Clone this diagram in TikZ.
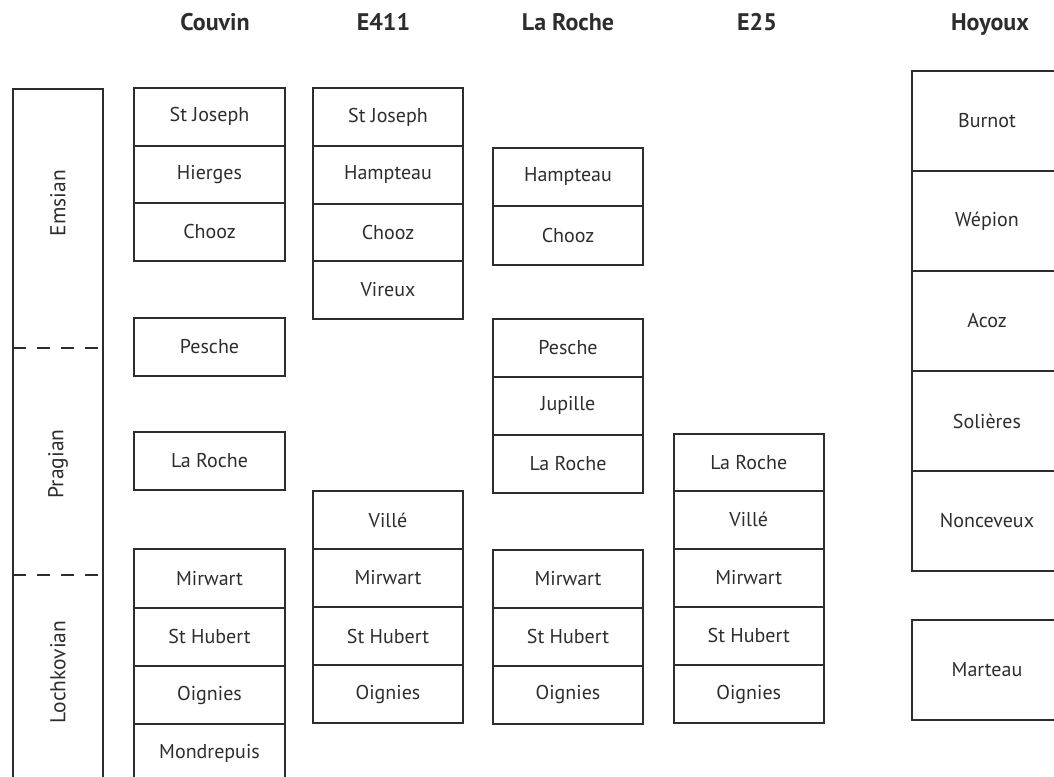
\documentclass[tikz,border=0pt]{standalone}
\usepackage{fontspec}
\setmainfont{PT Sans}
\definecolor{ink}{RGB}{45,45,45}
\tikzset{
  cell/.style={draw=ink, line width=2pt, rectangle, outer sep=0pt, inner sep=0pt,
    anchor=north west, text=ink, font=\fontsize{20}{22}\selectfont},
  hdr/.style={text=ink, font=\fontsize{24}{26}\selectfont\bfseries, anchor=base},
  stagelbl/.style={text=ink, rotate=90, font=\fontsize{21.5}{23}\selectfont},
  stagesep/.style={draw=ink, line width=2pt, dash pattern=on 13pt off 11pt}
}
\newcommand\cellbox[6]{\node[cell, minimum width=#4pt, minimum height=#5pt] (#1) at (#2,#3) {#6};}
\begin{document}
\begin{tikzpicture}[x=1pt,y=-1pt]
\useasboundingbox (0,0) rectangle (1054,776);
% headers
\node[hdr] (hCouvin) at (215,31) {Couvin};
\node[hdr] (hE411) at (383.5,31) {E411};
\node[hdr] (hLaRoche) at (568,31) {La Roche};
\node[hdr] (hE25) at (757,31) {E25};
\node[hdr] (hHoyoux) at (990,31) {Hoyoux};
% stage column
\cellbox{stage}{13}{89}{90}{710}{}
\node[stagelbl] (emsian) at (58,203) {Emsian};
\node[stagelbl] (pragian) at (58,464) {Pragian};
\node[stagelbl] (lochkovian) at (58,672) {Lochkovian};
\coordinate (d1) at (103,348);
\coordinate (d2) at (103,575);
\draw[stagesep] (stage.west |- d1) -- (d1);
\draw[stagesep] (stage.west |- d2) -- (d2);
% Couvin
\cellbox{cA}{134}{88}{151}{57.5}{St Joseph}
\cellbox{cB}{134}{145.5}{151}{57.5}{Hierges}
\cellbox{cC}{134}{203}{151}{57.5}{Chooz}
\cellbox{cD}{134}{318}{151}{58}{Pesche}
\cellbox{cE}{134}{432}{151}{58}{La Roche}
\cellbox{cF}{134}{549}{151}{58.5}{Mirwart}
\cellbox{cG}{134}{607.5}{151}{58.5}{St Hubert}
\cellbox{cH}{134}{666}{151}{58}{Oignies}
\cellbox{cI}{134}{724}{151}{58}{Mondrepuis}
% E411
\cellbox{eA}{313}{88}{150}{58}{St Joseph}
\cellbox{eB}{313}{146}{150}{57.5}{Hampteau}
\cellbox{eC}{313}{203.5}{150}{57.5}{Chooz}
\cellbox{eD}{313}{261}{150}{57.5}{Vireux}
\cellbox{eE}{313}{491}{150}{58}{Villé}
\cellbox{eF}{313}{549}{150}{58}{Mirwart}
\cellbox{eG}{313}{607}{150}{58}{St Hubert}
\cellbox{eH}{313}{665}{150}{58}{Oignies}
% La Roche
\cellbox{rA}{493}{147.5}{150}{58.5}{Hampteau}
\cellbox{rB}{493}{206}{150}{58.5}{Chooz}
\cellbox{rC}{493}{318.5}{150}{58}{Pesche}
\cellbox{rD}{493}{376.5}{150}{58}{Jupille}
\cellbox{rE}{493}{434.5}{150}{58}{La Roche}
\cellbox{rF}{493}{549.5}{150}{58}{Mirwart}
\cellbox{rG}{493}{607.5}{150}{58}{St Hubert}
\cellbox{rH}{493}{665.5}{150}{58}{Oignies}
% E25
\cellbox{fA}{673.5}{433.5}{150.5}{57.5}{La Roche}
\cellbox{fB}{673.5}{491}{150.5}{57.5}{Villé}
\cellbox{fC}{673.5}{548.5}{150.5}{58}{Mirwart}
\cellbox{fD}{673.5}{606.5}{150.5}{58.5}{St Hubert}
\cellbox{fE}{673.5}{665}{150.5}{58}{Oignies}
% Hoyoux
\cellbox{hA}{912}{71}{150}{100}{Burnot}
\cellbox{hB}{912}{171}{150}{100}{Wépion}
\cellbox{hC}{912}{271}{150}{100}{Acoz}
\cellbox{hD}{912}{371}{150}{100}{Solières}
\cellbox{hE}{912}{471}{150}{100}{Nonceveux}
\cellbox{hF}{912}{620}{150}{100}{Marteau}
\end{tikzpicture}
\end{document}
